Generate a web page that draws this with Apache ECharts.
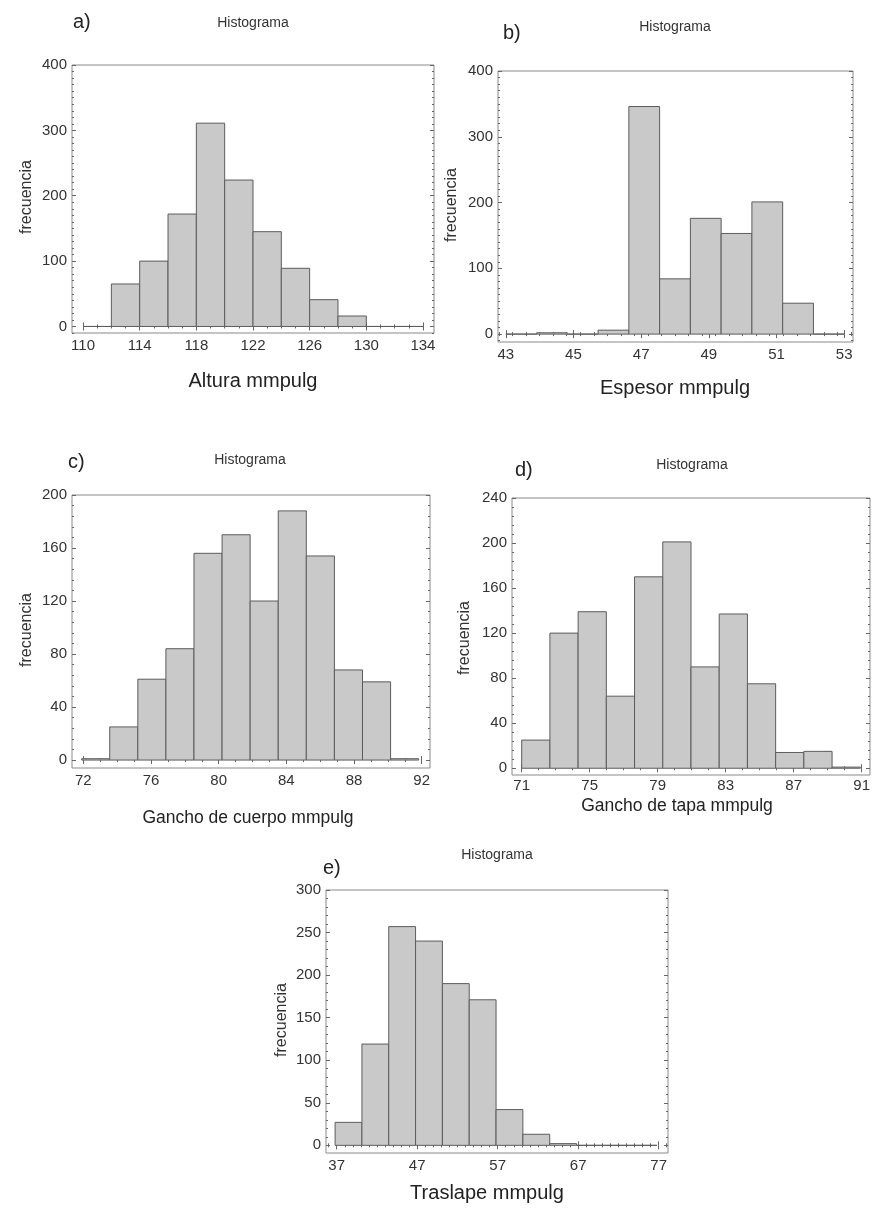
<!DOCTYPE html>
<html><head><meta charset="utf-8">
<script src="https://cdn.jsdelivr.net/npm/echarts@6/dist/echarts.min.js"></script>
<style>html,body{margin:0;padding:0;background:#fff}#c{width:873px;height:1208px}</style>
</head><body><div id="c"></div>
<script>
// ---------------- data ----------------
const panelLabels = ['a)', 'b)', 'c)', 'd)', 'e)'];
const plotTitle = 'Histograma';
const yAxisName = 'frecuencia';
const xAxisNames = ['Altura mmpulg', 'Espesor mmpulg', 'Gancho de cuerpo mmpulg', 'Gancho de tapa mmpulg', 'Traslape mmpulg'];

const alturaBinStart = 110, alturaBinWidth = 2;
const alturaCounts = [0, 65, 100, 172, 311, 224, 145, 89, 41, 16, 0, 0];
const alturaXTicks = [110, 114, 118, 122, 126, 130, 134];
const alturaYTicks = [0, 100, 200, 300, 400];

const espesorBinStart = 43, espesorBinWidth = 10 / 11;
const espesorCounts = [0, 2, 0, 6, 346, 84, 176, 153, 201, 47, 0];
const espesorXTicks = [43, 45, 47, 49, 51, 53];
const espesorYTicks = [0, 100, 200, 300, 400];

const cuerpoBinStart = 71.9, cuerpoBinWidth = 1.66;
const cuerpoCounts = [1, 25, 61, 84, 156, 170, 120, 188, 154, 68, 59, 1];
const cuerpoXTicks = [72, 76, 80, 84, 88, 92];
const cuerpoYTicks = [0, 40, 80, 120, 160, 200];

const tapaBinStart = 71.0, tapaBinWidth = 1.66;
const tapaCounts = [25, 120, 139, 64, 170, 201, 90, 137, 75, 14, 15, 1];
const tapaXTicks = [71, 75, 79, 83, 87, 91];
const tapaYTicks = [0, 40, 80, 120, 160, 200, 240];

const traslapeBinStart = 36.8, traslapeBinWidth = 3.333;
const traslapeCounts = [27, 119, 257, 240, 190, 171, 42, 13, 2, 0, 0, 0];
const traslapeXTicks = [37, 47, 57, 67, 77];
const traslapeYTicks = [0, 50, 100, 150, 200, 250, 300];

// ---------------- layout ----------------
const binStarts = [alturaBinStart, espesorBinStart, cuerpoBinStart, tapaBinStart, traslapeBinStart];
const binWidths = [alturaBinWidth, espesorBinWidth, cuerpoBinWidth, tapaBinWidth, traslapeBinWidth];
const counts = [alturaCounts, espesorCounts, cuerpoCounts, tapaCounts, traslapeCounts];
const xTicks = [alturaXTicks, espesorXTicks, cuerpoXTicks, tapaXTicks, traslapeXTicks];
const yTicks = [alturaYTicks, espesorYTicks, cuerpoYTicks, tapaYTicks, traslapeYTicks];

const layout = [
  { grid: { left: 72, top: 65, width: 362, height: 268 }, x: [109.22, 134.78], y: [-10, 400], xMinor: 1, yMinor: 10,
    lab: [73, 22], ttl: [253, 23], xn: [253, 381], xnSize: 20, yn: [27, 197], lm: 5 },
  { grid: { left: 498, top: 71, width: 355, height: 271 }, x: [42.77, 53.26], y: [-12, 400], xMinor: 0.4, yMinor: 10,
    lab: [503, 33], ttl: [675, 27], xn: [675, 388], xnSize: 20, yn: [452, 205], lm: 5 },
  { grid: { left: 72, top: 495, width: 358, height: 273 }, x: [71.33, 92.49], y: [-6, 200], xMinor: 1, yMinor: 8,
    lab: [68, 462], ttl: [250, 460], xn: [248, 818], xnSize: 17.5, yn: [27, 630], lm: 5 },
  { grid: { left: 512, top: 498, width: 358, height: 277 }, x: [70.43, 91.49], y: [-6, 240], xMinor: 1, yMinor: 8,
    lab: [515, 470], ttl: [692, 465], xn: [677, 806], xnSize: 17.5, yn: [465, 638], lm: 3 },
  { grid: { left: 326, top: 890, width: 342, height: 263 }, x: [35.67, 78.16], y: [-9, 300], xMinor: 1, yMinor: 10,
    lab: [323, 868], ttl: [497, 855], xn: [487, 1193], xnSize: 20, yn: [282, 1020], lm: 5 }
];

const FONT = '"Liberation Sans", Arial, sans-serif';
const TXT = '#333';

function minorValues(range, step) {
  const out = [];
  for (let v = Math.ceil(range[0] / step) * step; v <= range[1] + 1e-9; v += step) out.push(Math.round(v * 1000) / 1000);
  return out;
}

const grids = [], xAxes = [], yAxes = [], series = [], graphics = [];

layout.forEach((L, i) => {
  grids.push(Object.assign({ show: true, borderColor: '#8a8a8a', borderWidth: 1, backgroundColor: '#fff' }, L.grid));
  const mkAxis = (range, pos, vals, major, labels, margin) => ({
    type: 'value', gridIndex: i, min: range[0], max: range[1], position: pos,
    axisLine: { show: false }, splitLine: { show: false },
    axisTick: { show: true, inside: true, length: major ? 4 : 2, customValues: vals, lineStyle: { color: '#666', width: 1 } },
    axisLabel: labels ? { show: true, customValues: vals, color: TXT, fontFamily: FONT, fontSize: 15, margin: margin } : { show: false }
  });
  const xm = minorValues(L.x, L.xMinor), ym = minorValues(L.y, L.yMinor);
  xAxes.push(mkAxis(L.x, 'bottom', xTicks[i], true, true, L.lm));
  xAxes.push(mkAxis(L.x, 'bottom', xm, false, false));
  xAxes.push(mkAxis(L.x, 'top', xTicks[i], true, false));
  xAxes.push(mkAxis(L.x, 'top', xm, false, false));
  yAxes.push(mkAxis(L.y, 'left', yTicks[i], true, true, 5));
  yAxes.push(mkAxis(L.y, 'left', ym, false, false));
  yAxes.push(mkAxis(L.y, 'right', yTicks[i], true, false));
  yAxes.push(mkAxis(L.y, 'right', ym, false, false));

  const data = counts[i].map((c, k) => [binStarts[i] + k * binWidths[i], binStarts[i] + (k + 1) * binWidths[i], c]);
  series.push({
    type: 'custom', xAxisIndex: 4 * i, yAxisIndex: 4 * i, data: data,
    encode: { x: [0, 1], y: 2 }, silent: true, animation: false,
    renderItem: function (params, api) {
      const p0 = api.coord([api.value(0), api.value(2)]);
      const p1 = api.coord([api.value(1), 0]);
      return { type: 'rect', shape: { x: p0[0], y: p0[1], width: p1[0] - p0[0], height: p1[1] - p0[1] },
        style: { fill: '#c9c9c9', stroke: '#5c5c5c', lineWidth: 1 } };
    }
  });

  graphics.push({ type: 'text', x: L.lab[0], y: L.lab[1], style: { text: panelLabels[i], fill: '#222', font: '20px ' + FONT, align: 'left', verticalAlign: 'middle' } });
  graphics.push({ type: 'text', x: L.ttl[0], y: L.ttl[1], style: { text: plotTitle, fill: TXT, font: '14px ' + FONT, align: 'center', verticalAlign: 'middle' } });
  graphics.push({ type: 'text', x: L.xn[0], y: L.xn[1], style: { text: xAxisNames[i], fill: '#222', font: L.xnSize + 'px ' + FONT, align: 'center', verticalAlign: 'middle' } });
  graphics.push({ type: 'text', x: L.yn[0], y: L.yn[1], rotation: Math.PI / 2, style: { text: yAxisName, fill: TXT, font: '16px ' + FONT, align: 'center', verticalAlign: 'middle' } });
});

const chart = echarts.init(document.getElementById('c'), null, { renderer: 'canvas' });
chart.setOption({ animation: false, backgroundColor: '#fff', grid: grids, xAxis: xAxes, yAxis: yAxes, series: series, graphic: graphics });
</script></body></html>
